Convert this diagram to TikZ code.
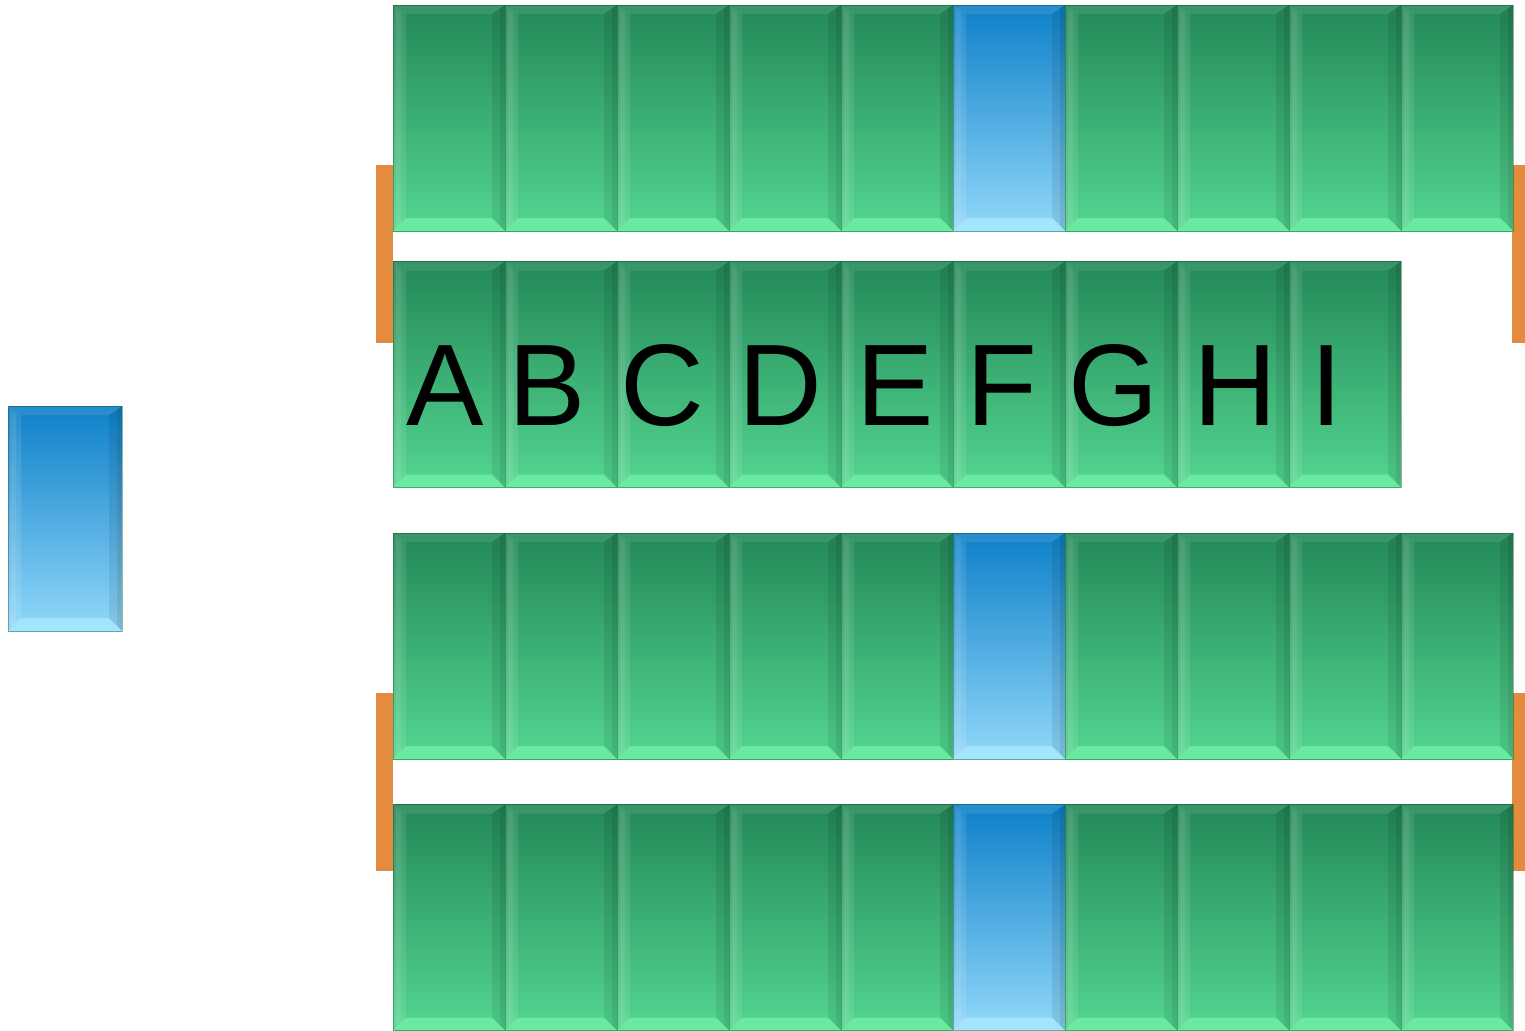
\documentclass[tikz,border=0pt]{standalone}
\usepackage{fontspec}
\setmainfont{Liberation Sans}
\begin{document}
\begin{tikzpicture}[x=0.5pt,y=-0.5pt]
\definecolor{gtop}{RGB}{35,136,88}
\definecolor{gbot}{RGB}{84,214,144}
\definecolor{gbev}{RGB}{108,240,164}
\definecolor{btop}{RGB}{14,128,200}
\definecolor{bbot}{RGB}{146,216,250}
\definecolor{bbev}{RGB}{168,232,255}
\definecolor{barc}{RGB}{229,139,64}
\tikzset{
  bev/.style={path picture={
    \coordinate (NW) at (path picture bounding box.north west);
    \coordinate (NE) at (path picture bounding box.north east);
    \coordinate (SW) at (path picture bounding box.south west);
    \coordinate (SE) at (path picture bounding box.south east);
    \fill[white,opacity=0.10] (NW) -- (NE) -- ([shift={(-6.5pt,-4.5pt)}]NE) -- ([shift={(6.5pt,-4.5pt)}]NW) -- cycle;
    \fill[white,opacity=0.10] (NW) -- ([shift={(6.5pt,-4.5pt)}]NW) -- ([shift={(6.5pt,6.5pt)}]SW) -- (SW) -- cycle;
    \fill[white,opacity=0.08] ([shift={(1.5pt,-1.5pt)}]NW) -- ([shift={(4pt,-3pt)}]NW) -- ([shift={(4pt,4pt)}]SW) -- ([shift={(1.5pt,1.5pt)}]SW) -- cycle;
    \fill[black,opacity=0.08] (NE) -- ([shift={(-6.5pt,-4.5pt)}]NE) -- ([shift={(-6.5pt,6.5pt)}]SE) -- (SE) -- cycle;
    \fill[black,opacity=0.07] (NE) -- ([shift={(-2.5pt,-2pt)}]NE) -- ([shift={(-2.5pt,2.5pt)}]SE) -- (SE) -- cycle;
    \fill[bevc,opacity=0.85] (SW) -- (SE) -- ([shift={(-6.5pt,6.5pt)}]SE) -- ([shift={(6.5pt,6.5pt)}]SW) -- cycle;
  }},
  cellbase/.style={rectangle, minimum width=56pt, minimum height=113pt, inner sep=0pt, outer sep=0pt,
    draw=black!70!green, draw opacity=0.35, line width=0.5pt, bev},
  greencell/.style={cellbase, top color=gtop, bottom color=gbot, /utils/exec={\colorlet{bevc}{gbev}}},
  bluecell/.style={cellbase, top color=btop, bottom color=bbot, /utils/exec={\colorlet{bevc}{bbev}}},
  letter/.style={anchor=base, inner sep=0pt, font=\fontsize{58}{58}\selectfont},
  leftbar/.style={rectangle, fill=barc, minimum width=8.5pt, minimum height=89pt, inner sep=0pt, outer sep=0pt},
  rightbar/.style={rectangle, fill=barc, minimum width=6.5pt, minimum height=89pt, inner sep=0pt, outer sep=0pt},
}
\useasboundingbox (0,0) rectangle (1525,1030);
% orange bars
\node[leftbar] (lb1) at (384.5,254) {};
\node[leftbar] (lb2) at (384.5,782) {};
\node[rightbar] (rb1) at (1518.5,254) {};
\node[rightbar] (rb2) at (1518.5,782) {};
% full rows with a blue cell
\foreach \r/\y in {1/118,3/646,4/917.5}{
  \foreach \i in {0,...,9}{
    \ifnum\i=5
      \node[bluecell] (c\r-\i) at (449+112*\i,\y) {};
    \else
      \node[greencell] (c\r-\i) at (449+112*\i,\y) {};
    \fi
  }
}
% second row
\foreach \i in {0,...,8}{
  \node[greencell] (c2-\i) at (449+112*\i,374.5) {};
}
% letters
\foreach \n/\x in {A/445.5,B/547.5,C/662,D/780,E/895,F/1002,G/1114,H/1235,I/1327}{
  \node[letter] (l\n) at (\x,425) {\n};
}
% lone blue box
\node[bluecell, minimum width=57pt, minimum height=112.5pt] (lone) at (65,518.5) {};
\end{tikzpicture}
\end{document}
